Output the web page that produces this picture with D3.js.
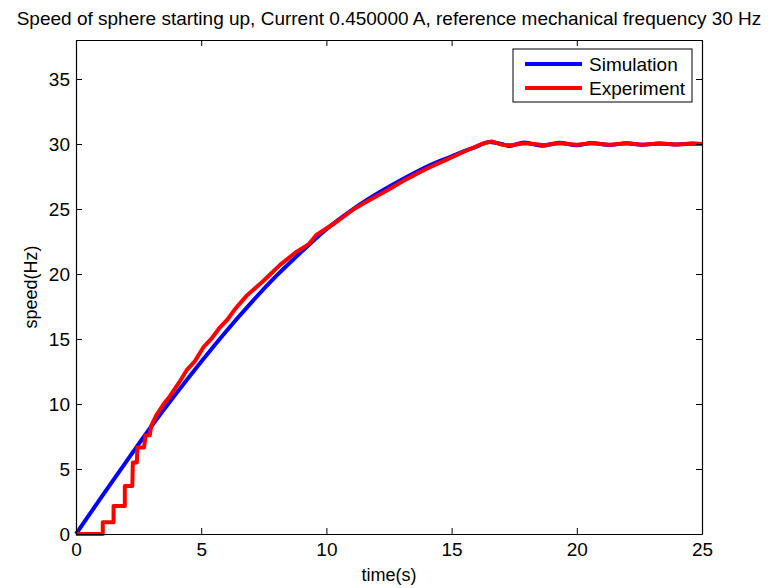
<!DOCTYPE html>
<html>
<head>
<meta charset="utf-8">
<script src="https://cdn.jsdelivr.net/npm/d3@7"></script>
<style>
  body { margin: 0; background: #fff; }
  text { font-family: "Liberation Sans", Arial, Helvetica, sans-serif; }
</style>
</head>
<body>
<div id="chart"></div>
<script>
// simulated speed (blue)
let simTime = [0, 1, 2, 3, 4, 5, 6, 7, 8, 9, 10, 11, 12, 13, 14, 15, 15.5, 16, 16.5, 17, 17.3, 17.9, 18.6, 19.3, 20, 20.6, 21.3, 22, 22.6, 23.3, 24, 24.6, 25]
let simSpeed = [0, 2.8, 5.55, 8.25, 10.8, 13.25, 15.6, 17.8, 19.85, 21.7, 23.45, 24.9, 26.15, 27.25, 28.25, 29.05, 29.45, 29.8, 30.15, 30.0, 29.85, 30.12, 29.87, 30.1, 29.9, 30.08, 29.92, 30.06, 29.94, 30.04, 29.96, 30.03, 30.0]

// measured speed (red)
let expTime = [0, 1.07, 1.07, 1.5, 1.5, 1.95, 1.95, 2.25, 2.27, 2.43, 2.45, 2.72, 2.78, 2.95, 3.0, 3.2, 3.5, 3.75, 4.1, 4.42, 4.75, 5.1, 5.4, 5.75, 6.05, 6.35, 6.8, 7.5, 8.15, 8.8, 9.3, 9.6, 10.4, 11.1, 11.6, 12.4, 13.2, 14.0, 14.8, 15.6, 16.2, 16.6, 17.0, 17.4, 17.9, 18.3, 18.7, 19.3, 20.0, 20.6, 21.3, 22, 22.6, 23.3, 24, 24.6, 25]
let expSpeed = [0, 0, 0.9, 0.9, 2.15, 2.15, 3.7, 3.7, 5.5, 5.5, 6.65, 6.65, 7.6, 7.6, 8.3, 9.1, 10.0, 10.6, 11.6, 12.6, 13.3, 14.4, 15.0, 15.9, 16.5, 17.3, 18.3, 19.5, 20.7, 21.7, 22.3, 23.0, 24.0, 25.0, 25.55, 26.4, 27.3, 28.1, 28.8, 29.5, 30.0, 30.2, 29.95, 29.9, 30.05, 30.0, 29.9, 30.05, 29.95, 30.05, 29.95, 30.05, 29.95, 30.03, 29.97, 30.02, 30.0]

let xTicks = [0, 5, 10, 15, 20, 25]
let yTicks = [0, 5, 10, 15, 20, 25, 30, 35]
let seriesNames = ["Simulation", "Experiment"]
let seriesColors = ["#0000ff", "#ff0000"]

let W = 770, H = 588
let margin = { top: 40, right: 68, bottom: 54, left: 76 }
let width = W - margin.left - margin.right,
    height = H - margin.top - margin.bottom

let svg = d3.select("#chart").append("svg")
    .attr("width", W)
    .attr("height", H)

let g = svg.append("g")
    .attr("transform", "translate(" + margin.left + "," + margin.top + ")")

let x = d3.scaleLinear().domain([0, 25]).range([0, width])
let y = d3.scaleLinear().domain([0, 38]).range([height, 0])

let sim = simTime.map(function(t, i) { return { t: t, v: simSpeed[i] } })
let exp = expTime.map(function(t, i) { return { t: t, v: expSpeed[i] } })

let line = d3.line()
    .x(function(d) { return x(d.t) })
    .y(function(d) { return y(d.v) })
    .curve(d3.curveMonotoneX)

let stepLine = d3.line()
    .x(function(d) { return x(d.t) })
    .y(function(d) { return y(d.v) })

g.append("rect")
    .attr("width", width)
    .attr("height", height)
    .attr("fill", "#fff")

g.append("path")
    .datum(sim)
    .attr("fill", "none")
    .attr("stroke", seriesColors[0])
    .attr("stroke-width", 4)
    .attr("stroke-linejoin", "round")
    .attr("d", line)

g.append("path")
    .datum(exp)
    .attr("fill", "none")
    .attr("stroke", seriesColors[1])
    .attr("stroke-width", 4)
    .attr("stroke-linejoin", "round")
    .attr("d", stepLine)

// axes, matlab style: ticks inside on all four sides
let xAxB = d3.axisBottom(x).tickValues(xTicks).tickSizeInner(-6).tickSizeOuter(0).tickPadding(9)
let xAxT = d3.axisTop(x).tickValues(xTicks).tickSizeInner(-6).tickSizeOuter(0).tickFormat("")
let yAxL = d3.axisLeft(y).tickValues(yTicks).tickSizeInner(-6).tickSizeOuter(0).tickPadding(6)
let yAxR = d3.axisRight(y).tickValues(yTicks).tickSizeInner(-6).tickSizeOuter(0).tickFormat("")

let gx = g.append("g").attr("transform", "translate(0," + height + ")").call(xAxB)
g.append("g").call(xAxT)
let gy = g.append("g").call(yAxL)
g.append("g").attr("transform", "translate(" + width + ",0)").call(yAxR)

g.selectAll(".domain").attr("stroke", "#000").attr("stroke-width", 1.2)
g.selectAll(".tick line").attr("stroke", "#000").attr("stroke-width", 1)
g.selectAll(".tick text")
    .attr("fill", "#000")
    .style("font-size", "19px")
    .style("font-family", "'Liberation Sans', Arial, sans-serif")
gx.selectAll(".tick text").attr("dy", "0.71em")

// title and axis labels
svg.append("text")
    .attr("x", margin.left + width / 2)
    .attr("y", 25)
    .attr("text-anchor", "middle")
    .style("font-size", "19px")
    .text("Speed of sphere starting up, Current 0.450000 A, reference mechanical frequency 30 Hz")

svg.append("text")
    .attr("x", margin.left + width / 2)
    .attr("y", 581)
    .attr("text-anchor", "middle")
    .style("font-size", "18px")
    .text("time(s)")

svg.append("text")
    .attr("transform", "translate(37," + (margin.top + height / 2) + ")rotate(-90)")
    .attr("text-anchor", "middle")
    .style("font-size", "18px")
    .text("speed(Hz)")

// legend
let lg = svg.append("g").attr("transform", "translate(513,49)")
lg.append("rect")
    .attr("width", 179)
    .attr("height", 53)
    .attr("fill", "#fff")
    .attr("stroke", "#000")
    .attr("stroke-width", 1)

let items = lg.selectAll(".item")
    .data(seriesNames)
    .enter()
    .append("g")
    .attr("transform", function(d, i) { return "translate(0," + (15 + i * 24) + ")" })

items.append("line")
    .attr("x1", 12)
    .attr("x2", 69)
    .attr("stroke", function(d, i) { return seriesColors[i] })
    .attr("stroke-width", 4)

items.append("text")
    .attr("x", 76)
    .attr("dy", "0.35em")
    .style("font-size", "19px")
    .text(function(d) { return d })
</script>
</body>
</html>
